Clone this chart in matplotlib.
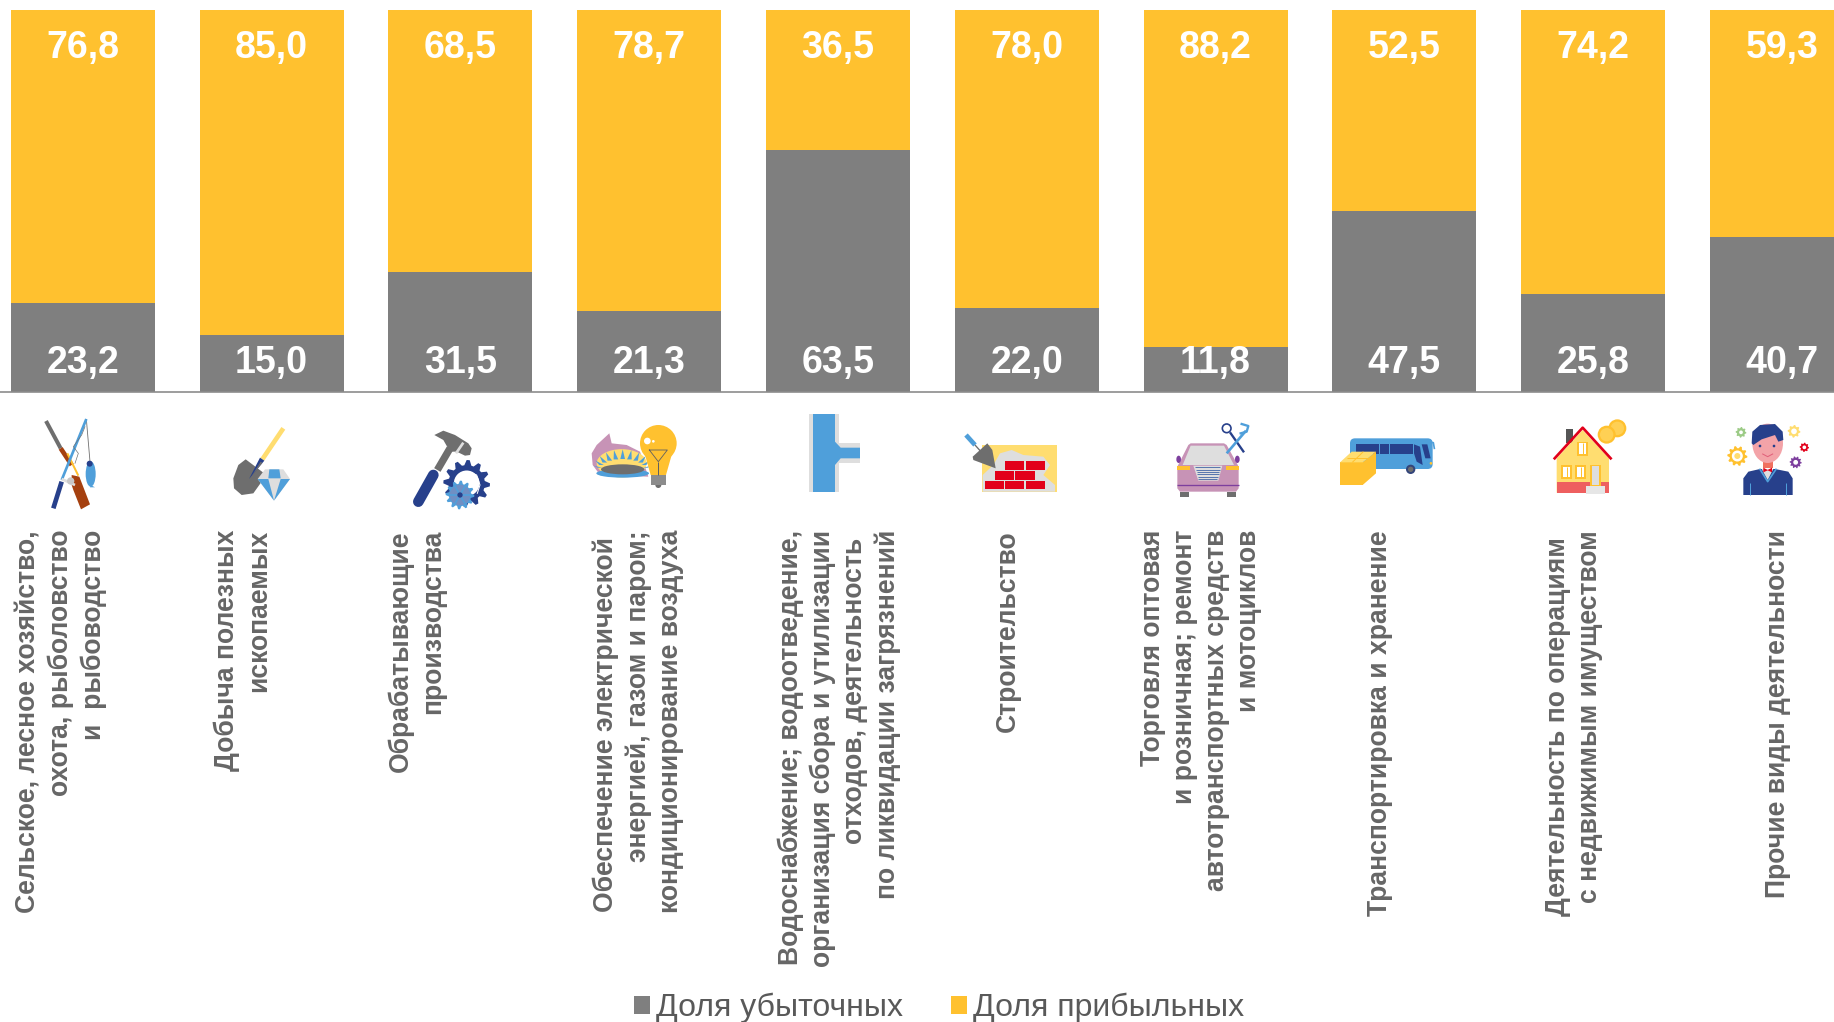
import numpy as np
import matplotlib
matplotlib.use("Agg")
import matplotlib.pyplot as plt
from matplotlib.patches import Polygon, Circle, Rectangle, Ellipse, FancyBboxPatch

# ---- data ----
loss_share = [23.2, 15.0, 31.5, 21.3, 63.5, 22.0, 11.8, 47.5, 25.8, 40.7]
profit_share = [76.8, 85.0, 68.5, 78.7, 36.5, 78.0, 88.2, 52.5, 74.2, 59.3]
categories = [
    "Сельское, лесное хозяйство,\nохота, рыболовство\nи  рыбоводство",
    "Добыча полезных\nископаемых",
    "Обрабатывающие\nпроизводства",
    "Обеспечение электрической \nэнергией, газом и паром;\nкондиционирование воздуха",
    "Водоснабжение; водоотведение,\nорганизация сбора и утилизации\nотходов, деятельность \nпо ликвидации загрязнений",
    "Строительство",
    "Торговля оптовая\nи розничная; ремонт\nавтотранспортных средств\nи мотоциклов",
    "Транспортировка и хранение",
    "Деятельность по операциям \nс недвижимым имуществом",
    "Прочие виды деятельности",
]
legend_labels = ["Доля убыточных", "Доля прибыльных"]

# ---- style ----
GRAY = "#7F7F7F"
YELLOW = "#FFC12F"
TEXT = "#666666"
plt.rcParams["font.family"] = ["Liberation Sans", "DejaVu Sans"]

W, H = 1834, 1022
fig = plt.figure(figsize=(W / 100, H / 100), dpi=100, facecolor="white")

BASE, TOP = 392.0, 10.5
ax = fig.add_axes([0, 1 - BASE / H, 1, (BASE - TOP) / H])
slot = 188.8
first = 82.7
ax.set_xlim(-first / slot, (W - first) / slot)
ax.set_ylim(0, 100)
x = np.arange(len(categories))
bw = 144 / slot
b1 = ax.bar(x, loss_share, bw, color=GRAY, label=legend_labels[0])
b2 = ax.bar(x, profit_share, bw, bottom=loss_share, color=YELLOW, label=legend_labels[1])
for s in ["top", "left", "right"]:
    ax.spines[s].set_visible(False)
ax.spines["bottom"].set_color("#8C8C8C")
ax.spines["bottom"].set_linewidth(1.2)
ax.set_yticks([])
ax.set_xticks([])
ax.patch.set_alpha(0)

fmt = lambda v: f"{v:.1f}".replace(".", ",")
for i in x:
    ax.text(i, 7.65, fmt(loss_share[i]), color="white", fontsize=27, fontweight="bold",
            ha="center", va="center", clip_on=False)
    ax.text(i, 90.2, fmt(profit_share[i]), color="white", fontsize=27, fontweight="bold",
            ha="center", va="center", clip_on=False)

# overlay in figure pixels
ov = fig.add_axes([0, 0, 1, 1])
ov.set_xlim(0, W)
ov.set_ylim(H, 0)
ov.axis("off")
ov.patch.set_alpha(0)

# category labels: centre of each text block, px
label_cx = [61, 243, 417, 638, 839, 1008, 1201, 1380, 1574, 1778]
for cx, lab in zip(label_cx, categories):
    ov.text(cx, 530, lab, rotation=90, ha="center", va="top", ma="right",
            fontsize=19.1, fontweight="bold", color=TEXT, linespacing=1.30)

ov.legend(handles=[b1, b2], labels=legend_labels, loc="center",
          bbox_to_anchor=(939 / W, 1 - 1008 / H),
          bbox_transform=fig.transFigure, ncol=2, frameon=False, fontsize=23,
          handlelength=0.49, handleheight=0.49, handletextpad=0.2, columnspacing=1.5,
          labelcolor="#595959", borderpad=0, borderaxespad=0)

# ---- decorative icons, sketched in 3x crop units relative to an origin ----
NAVY, BLUE, BROWN, DG = "#27408B", "#4F9FDA", "#A5400F", "#6E6E6E"
PINK, LY, RED, LG = "#C793B6", "#FFDD70", "#E2001A", "#DEDEDE"
OR, PURP = "#FFC12F", "#7D3F9E"
org = [0, 0]


def T(p):
    return (org[0] + p[0] / 3, org[1] + p[1] / 3)


def line(p, q, c, w, cap="butt", z=3):
    a, b = T(p), T(q)
    ov.plot([a[0], b[0]], [a[1], b[1]], color=c, lw=w / 3 * 0.72, solid_capstyle=cap, zorder=z)


def pline(pts, c, w, z=3):
    a = np.array([T(p) for p in pts])
    ov.plot(a[:, 0], a[:, 1], color=c, lw=w / 3 * 0.72, zorder=z, solid_joinstyle="round")


def poly(pts, c, z=3):
    ov.add_patch(Polygon([T(p) for p in pts], closed=True, fc=c, ec="none", zorder=z))


def rect(x0, y0, x1, y1, c, z=3):
    a, b = T((x0, y0)), T((x1, y1))
    ov.add_patch(Rectangle(a, b[0] - a[0], b[1] - a[1], fc=c, ec="none", zorder=z))


def circ(cx, cy, r, c, z=3):
    ov.add_patch(Circle(T((cx, cy)), r / 3, fc=c, ec="none", zorder=z))


def ell(cx, cy, w, h, c, z=3):
    ov.add_patch(Ellipse(T((cx, cy)), w / 3, h / 3, fc=c, ec="none", zorder=z))


def gear(cx, cy, r, c, teeth=10, hole=0.5, z=3, bg="white"):
    n = teeth * 4
    a = np.arange(n) * 2 * np.pi / n
    rad = np.where(np.arange(n) % 4 < 2, r, r * 0.78)
    poly(np.c_[cx + rad * np.cos(a), cy + rad * np.sin(a)], c, z)
    if hole:
        circ(cx, cy, r * hole, bg, z + 0.1)


org[:] = [20, 410]
# 1 rifle and fishing rod
line((78, 33), (122, 115), DG, 12)
line((122, 115), (155, 165), BROWN, 14)
line((142, 130), (175, 197), OR, 6, z=3.2)
poly([(155, 195), (178, 200), (210, 283), (183, 298), (160, 240), (155, 225)], BROWN)
line((199, 27), (125, 210), BLUE, 8, z=4)
line((125, 215), (100, 295), NAVY, 14, z=4)
line((199, 27), (210, 155), "#707070", 2.5)
pline([(195, 50), (185, 75), (160, 110), (175, 130), (165, 160)], "#707070", 2, 5)
ell(212, 192, 30, 76, BLUE)
poly([(212, 225), (225, 232), (210, 232)], BLUE)
circ(209, 161, 9, NAVY, 4)
line((125, 207), (165, 225), LG, 8, z=5)
circ(152, 213, 11, "#C8C8C8", 6)

# 2 shovel and diamond
line((790, 55), (727, 148), LY, 14)
poly([(677, 148), (730, 188), (725, 215), (700, 250), (665, 255), (642, 235), (640, 205), (655, 165)], DG)
poly([(720, 143), (733, 152), (687, 207)], NAVY, 4)
poly([(722, 155), (727, 159), (695, 198)], DG, 5)
poly([(735, 178), (790, 178), (810, 207), (762, 272), (713, 207)], LG, 5)
poly([(748, 178), (778, 178), (782, 205), (745, 205)], BLUE, 6)
poly([(713, 207), (745, 207), (762, 272)], BLUE, 6)
poly([(782, 207), (810, 207), (762, 272)], BLUE, 6)

org[:] = [400, 410]
# 3 hammer and gears
line((150, 115), (112, 180), DG, 22)
line((100, 195), (55, 275), NAVY, 32, "round")
poly([(103, 75), (130, 62), (165, 75), (205, 100), (215, 115), (210, 135), (195, 137), (170, 125), (150, 125), (130, 90)], DG)
line((190, 98), (168, 130), LG, 8, z=4)
gear(200, 220, 70, NAVY, 12, 0.55)
pline([(168, 215), (175, 195), (200, 185), (230, 195), (240, 225), (232, 250)], "white", 3, 4.5)
gear(180, 255, 43, BLUE, 12, 0.72, z=5, bg="#6F8FC4")
circ(180, 255, 8, NAVY, 6)
for a in np.arange(6) * np.pi / 3:
    line((180, 255), (180 + 34 * np.cos(a), 255 + 34 * np.sin(a)), BLUE, 5, z=5.5)

# 4 flame and bulb
poly([(575, 130), (590, 105), (628, 70), (635, 100), (680, 105), (720, 125), (745, 200), (600, 195), (578, 165)], PINK)
ell(665, 160, 150, 85, LY, 4)
ell(668, 190, 158, 26, BLUE, 5)
ell(668, 178, 130, 30, DG, 5.5)
for a in np.linspace(np.pi * 1.02, np.pi * 1.98, 11):
    bx, by = 668 + 68 * np.cos(a), 175 + 28 * np.sin(a)
    tx, ty = 668 + 88 * np.cos(a), 170 + 52 * np.sin(a)
    poly([(bx - 7, by), (bx + 7, by), (tx, ty)], BLUE, 5.2)
circ(775, 100, 55, OR, 7)
poly([(735, 135), (815, 135), (798, 195), (752, 195)], OR, 7)
rect(752, 195, 798, 225, "#8C8C8C", 7)
circ(775, 225, 9, DG, 6.9)
circ(742, 93, 10, "white", 8)
circ(760, 94, 4, "white", 8)
pline([(748, 120), (802, 120), (775, 155), (748, 120)], "#606060", 2.5, 8)
line((775, 155), (775, 195), "#606060", 3, z=8)

org[:] = [780, 410]
# 5 pipe
rect(88, 12, 178, 245, LG)
rect(178, 100, 240, 160, LG)
rect(100, 12, 165, 245, BLUE, 4)
poly([(165, 95), (182, 113), (240, 113), (240, 145), (182, 145), (165, 165)], BLUE, 4)

# 6 trowel and bricks
rect(606, 105, 830, 245, LY)
poly([(608, 195), (640, 165), (660, 130), (695, 120), (730, 135), (790, 140), (810, 165), (790, 195), (825, 225), (825, 245), (608, 245)], LG, 4)
for (y0, xs) in [(153, [(675, 732), (738, 795)]), (183, [(645, 703), (706, 764)]), (212, [(614, 671), (675, 732), (738, 795)])]:
    for (a, b) in xs:
        rect(a, y0, b, y0 + 26, RED, 5)
line((558, 75), (585, 105), BLUE, 14, z=6)
line((585, 105), (602, 124), DG, 4, z=6)
poly([(622, 100), (637, 120), (647, 175), (580, 150), (578, 140)], DG, 6)

org[:] = [1000, 400]
# 7 car and tools
poly([(532, 200), (565, 135), (572, 130), (672, 130), (680, 135), (716, 200), (716, 265), (708, 275), (540, 275), (532, 265)], PINK)
poly([(548, 195), (572, 137), (672, 137), (702, 195)], LG, 4)
poly([(580, 197), (667, 197), (655, 242), (595, 242)], LG, 4)
for yy in range(202, 238, 7):
    line((585 + (yy - 197) * 0.25, yy), (662 - (yy - 197) * 0.25, yy), "#5A78AE", 3, z=5)
rect(532, 197, 570, 210, OR, 5)
rect(677, 197, 716, 210, OR, 5)
ell(536, 178, 14, 22, PURP)
ell(712, 178, 14, 22, PURP)
line((532, 254), (716, 254), PURP, 4, z=5)
rect(541, 275, 567, 290, DG)
rect(681, 275, 708, 290, DG)
ov.add_patch(Circle(T((680, 85)), 13 / 3, fc="white", ec=NAVY, lw=1.2, zorder=5))
line((690, 97), (732, 157), NAVY, 7, z=5)
line((738, 92), (680, 160), BLUE, 8, z=6)
pline([(725, 72), (745, 78), (740, 95), (722, 100)], BLUE, 7, 6)

org[:] = [1320, 410]
# 8 bus and box
a0, b0 = T((90, 85)), T((338, 177))
ov.add_patch(FancyBboxPatch(a0, b0[0] - a0[0], b0[1] - a0[1], boxstyle="round,pad=0,rounding_size=5", fc=BLUE, ec="none", zorder=3))
rect(107, 103, 176, 132, NAVY, 4)
rect(180, 103, 207, 132, NAVY, 4)
rect(210, 103, 278, 132, NAVY, 4)
poly([(282, 103), (300, 110), (308, 165), (290, 155), (282, 130)], NAVY, 4)
poly([(305, 103), (322, 103), (332, 145), (316, 145)], NAVY, 4)
pline([(320, 95), (340, 98), (343, 115)], BLUE, 5, 4)
circ(272, 178, 14, "#33457A", 5)
circ(272, 178, 8, DG, 6)
circ(333, 160, 4, OR, 5)
rect(60, 157, 128, 225, OR, 6)
poly([(128, 157), (168, 125), (168, 190), (128, 225)], OR, 6)
poly([(60, 157), (128, 157), (168, 125), (95, 125)], LY, 7)
line((80, 143), (150, 143), OR, 3, z=8)
line((130, 125), (97, 157), OR, 3, z=8)

org[:] = [1540, 400]
# 9 house and coins
rect(78, 87, 99, 130, "#555555")
poly([(50, 175), (128, 90), (207, 175), (207, 278), (50, 278)], LY)
rect(50, 245, 207, 278, "#EE5F5F", 4)
pline([(44, 175), (128, 83), (212, 175)], RED, 8, 5)
for (x0, y0, x1, y1) in [(112, 125, 144, 167), (64, 196, 96, 237), (106, 196, 138, 237)]:
    rect(x0, y0, x1, y1, OR, 5)
    rect(x0 + 5, y0 + 5, x1 - 5, y1 - 5, "white", 5.5)
    line(((x0 + x1) / 2, y0 + 5), ((x0 + x1) / 2, y1 - 5), OR, 3, z=6)
rect(150, 196, 182, 258, OR, 5)
rect(155, 199, 177, 256, LG, 5.5)
rect(138, 258, 195, 282, "#E6E6E6", 6)
circ(232, 85, 27, OR)
circ(232, 85, 20, "#FFD054", 3.1)
circ(200, 104, 27, OR, 4)
circ(200, 104, 20, "#FFD054", 4.1)

# 10 person and gears
poly([(610, 285), (610, 235), (625, 215), (660, 207), (705, 207), (745, 215), (758, 235), (758, 285)], NAVY)
poly([(665, 207), (700, 207), (683, 240)], LG, 4)
pline([(660, 208), (683, 245), (708, 208)], BLUE, 5, 5)
line((630, 250), (630, 285), BLUE, 3, z=5)
line((737, 250), (737, 285), BLUE, 3, z=5)
rect(668, 183, 698, 205, "#F07060", 4)
poly([(670, 203), (683, 210), (696, 203), (696, 217), (683, 211), (670, 217)], RED, 5)
ell(683, 130, 92, 118, "#F3A3A8", 5)
poly([(635, 130), (637, 95), (660, 75), (705, 72), (728, 95), (730, 120), (715, 125), (705, 105), (665, 118), (640, 135)], NAVY, 6)
circ(660, 138, 4, NAVY, 6)
circ(702, 138, 4, NAVY, 6)
pline([(668, 162), (683, 170), (698, 162)], "#E0607A", 3, 6)
gear(592, 168, 30, OR, 10, 0.55)
circ(592, 168, 9, LY, 4)
gear(603, 97, 16, "#9CCB86", 8, 0.35)
gear(762, 94, 19, LY, 8, 0.45)
gear(793, 142, 14, RED, 8, 0.4)
gear(767, 187, 18, PURP, 10, 0.4)

fig.savefig("out.png", dpi=100, facecolor="white")
